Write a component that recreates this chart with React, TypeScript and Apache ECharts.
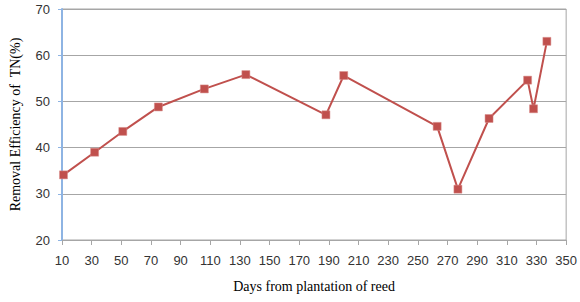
import React, { useEffect, useRef } from "react";
import * as echarts from "echarts";

const days = [11, 32, 51, 75, 106, 134, 188, 200, 263, 277, 298, 324, 328, 337];
const efficiency = [34.1, 39.0, 43.5, 48.8, 52.7, 55.8, 47.1, 55.6, 44.6, 31.0, 46.3, 54.6, 48.4, 63.0];
const xAxisTitle = "Days from plantation of reed";
const yAxisTitle = "Removal Efficiency of  TN(%)";

export default function App() {
  const ref = useRef<HTMLDivElement>(null);
  useEffect(() => {
    document.body.style.margin = "0";
    const chart = echarts.init(ref.current!, null, { renderer: "svg" });
    const labelFont = { fontFamily: "Liberation Sans", fontSize: 13, color: "#333" };
    chart.setOption({
      animation: false,
      backgroundColor: "#fff",
      grid: {
        left: 59,
        right: 13,
        top: 9,
        bottom: 62,
        show: true,
        borderColor: "#a6a6a6",
        borderWidth: 1,
      },
      xAxis: {
        type: "value",
        min: 10,
        max: 350,
        interval: 20,
        name: xAxisTitle,
        nameLocation: "middle",
        nameGap: 39,
        nameTextStyle: { fontFamily: "Liberation Serif", fontSize: 14, color: "#000" },
        axisLine: { show: true, lineStyle: { color: "#a6a6a6", width: 1 } },
        axisTick: { show: true, length: 5, lineStyle: { color: "#a6a6a6" } },
        axisLabel: { ...labelFont, margin: 14 },
        splitLine: { show: false },
      },
      yAxis: {
        type: "value",
        min: 20,
        max: 70,
        interval: 10,
        name: yAxisTitle,
        nameLocation: "middle",
        nameGap: 40,
        nameRotate: 90,
        nameTextStyle: { fontFamily: "Liberation Serif", fontSize: 14, color: "#000" },
        axisLine: { show: true, lineStyle: { color: "#8eb4e3", width: 2 } },
        axisTick: { show: true, length: 4, lineStyle: { color: "#8eb4e3" } },
        axisLabel: { ...labelFont, margin: 12 },
        splitLine: { show: true, lineStyle: { color: "#a6a6a6", width: 1 } },
      },
      series: [
        {
          type: "line",
          data: days.map((d, i) => [d, efficiency[i]]),
          symbol: "rect",
          symbolSize: 8,
          lineStyle: { color: "#c0504d", width: 2 },
          itemStyle: { color: "#c0504d", borderColor: "#d98c8a", borderWidth: 0.5 },
        },
      ],
    });
    return () => chart.dispose();
  }, []);
  return <div ref={ref} style={{ width: 580, height: 302 }} />;
}
